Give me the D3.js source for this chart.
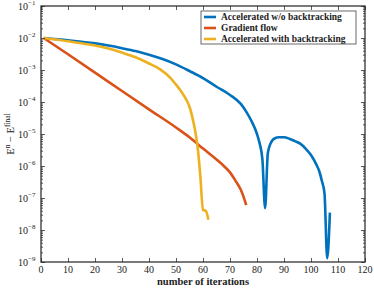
<!DOCTYPE html>
<html>
<head>
<meta charset="utf-8">
<script src="https://cdn.jsdelivr.net/npm/d3@7"></script>
<style>
  body { margin: 0; background: #fff; }
  text { font-family: "Liberation Serif", "DejaVu Serif", serif; fill: #222; }
</style>
</head>
<body>
<svg id="chart"></svg>
<script>
// iterations and energy error
const iterAcc = [1,10,20,25,30,35,40,45,50,55,60,65,70,74,76,78,80,81,82,83,84,85,86,88,90,92,94,96,98,100,102,103,104,105,106,107];
const accNoBt = [1.0e-2,8.5e-3,6.8e-3,5.8e-3,4.8e-3,3.9e-3,3.0e-3,2.2e-3,1.5e-3,9.3e-4,5.6e-4,3.0e-4,1.66e-4,8.7e-5,5.0e-5,2.5e-5,1.0e-5,5.0e-6,1.6e-6,4.8e-8,2.5e-6,5.0e-6,6.8e-6,7.9e-6,7.9e-6,7.1e-6,6.0e-6,5.0e-6,3.5e-6,2.2e-6,1.1e-6,7.1e-7,3.5e-7,1.4e-7,1.3e-9,3.5e-8];

const iterGrad = [1,10,20,30,40,50,55,60,65,68,70,72,74,75,76];
const gradFlow = [1.0e-2,3.1e-3,8.3e-4,2.2e-4,5.9e-5,1.6e-5,7.9e-6,3.5e-6,1.6e-6,9.5e-7,6.3e-7,3.5e-7,1.8e-7,1.1e-7,6.0e-8];

const iterBt = [1,10,20,25,30,35,40,44,48,50,52,54,55,56,57,58,59,60,61,62];
const accBt = [1.0e-2,7.9e-3,5.8e-3,4.7e-3,3.5e-3,2.5e-3,1.6e-3,1.07e-3,5.6e-4,3.5e-4,2.1e-4,1.1e-4,7.1e-5,3.5e-5,1.4e-5,4.0e-6,5.0e-7,4.2e-8,4.0e-8,2.1e-8];

const seriesNames = ["Accelerated w/o backtracking", "Gradient flow", "Accelerated with backtracking"];
const xTicks = [0,10,20,30,40,50,60,70,80,90,100,110,120];
const yExps = [-9,-8,-7,-6,-5,-4,-3,-2,-1];

const width = 374, height = 288;
const m = { left: 41, right: 9, top: 6, bottom: 26 };
const colors = ["#0072BD", "#D95319", "#EDB120"];

const svg = d3.select("#chart").attr("width", width).attr("height", height);

const x = d3.scaleLinear().domain([0, 120]).range([m.left, width - m.right]);
const y = d3.scaleLog().domain([1e-9, 1e-1]).range([height - m.bottom, m.top]);

const series = [
  { name: seriesNames[0], xs: iterAcc, ys: accNoBt },
  { name: seriesNames[1], xs: iterGrad, ys: gradFlow },
  { name: seriesNames[2], xs: iterBt, ys: accBt }
];

const line = d3.line().x(d => x(d[0])).y(d => y(d[1])).curve(d3.curveMonotoneX);

svg.append("g").selectAll("path")
  .data(series)
  .enter().append("path")
    .attr("d", s => line(s.xs.map((v, i) => [v, s.ys[i]])))
    .attr("fill", "none")
    .attr("stroke", (s, i) => colors[i])
    .attr("stroke-width", 2.6)
    .attr("stroke-linejoin", "round");

// ticks inward on all four sides
const minorY = [];
for (let e = -9; e < -1 + 0; e++) for (let k = 2; k <= 9; k++) minorY.push(k * Math.pow(10, e));

svg.append("g").attr("transform", `translate(0,${height - m.bottom})`)
  .call(d3.axisBottom(x).tickValues(xTicks).tickSize(-4).tickFormat(""))
  .call(g => g.select(".domain").remove());
svg.append("g").attr("transform", `translate(0,${m.top})`)
  .call(d3.axisTop(x).tickValues(xTicks).tickSize(-4).tickFormat(""))
  .call(g => g.select(".domain").remove());
svg.append("g").attr("transform", `translate(${m.left},0)`)
  .call(d3.axisLeft(y).tickValues(yExps.map(e => Math.pow(10, e))).tickSize(-4).tickFormat(""))
  .call(g => g.select(".domain").remove());
svg.append("g").attr("transform", `translate(${m.left},0)`)
  .call(d3.axisLeft(y).tickValues(minorY).tickSize(-2).tickFormat(""))
  .call(g => g.select(".domain").remove());
svg.append("g").attr("transform", `translate(${width - m.right},0)`)
  .call(d3.axisRight(y).tickValues(yExps.map(e => Math.pow(10, e))).tickSize(-4).tickFormat(""))
  .call(g => g.select(".domain").remove());
svg.append("g").attr("transform", `translate(${width - m.right},0)`)
  .call(d3.axisRight(y).tickValues(minorY).tickSize(-2).tickFormat(""))
  .call(g => g.select(".domain").remove());
svg.selectAll(".tick line").attr("stroke", "#333").attr("stroke-width", 0.8);

svg.append("rect")
  .attr("x", m.left).attr("y", m.top)
  .attr("width", width - m.left - m.right).attr("height", height - m.top - m.bottom)
  .attr("fill", "none").attr("stroke", "#222").attr("stroke-width", 1.2);

// tick labels
svg.append("g").selectAll("text")
  .data(xTicks)
  .enter().append("text")
    .attr("x", d => x(d)).attr("y", height - m.bottom + 11)
    .attr("text-anchor", "middle").attr("font-size", 10)
    .text(d => d);

const yl = svg.append("g").selectAll("text")
  .data(yExps)
  .enter().append("text")
    .attr("x", 30).attr("y", d => y(Math.pow(10, d)) + 3.5)
    .attr("text-anchor", "end").attr("font-size", 10);
yl.append("tspan").text("10");
yl.append("tspan").attr("dy", -4.5).attr("font-size", 7).text(d => "\u2212" + Math.abs(d));
yl.attr("text-anchor", "start").attr("x", 18);

// axis titles
svg.append("text")
  .attr("x", (m.left + width - m.right) / 2).attr("y", height - 3)
  .attr("text-anchor", "middle").attr("font-size", 10.5).attr("font-weight", "bold")
  .text("number of iterations");

const ylab = svg.append("text")
  .attr("transform", `translate(14,${(m.top + height - m.bottom) / 2}) rotate(-90)`)
  .attr("text-anchor", "middle").attr("font-size", 10.5);
ylab.append("tspan").text("E");
ylab.append("tspan").attr("dy", -4).attr("font-size", 7.5).text("n");
ylab.append("tspan").attr("dy", 4).text(" \u2212 E");
ylab.append("tspan").attr("dy", -4).attr("font-size", 7.5).text("final");

// legend
const lg = svg.append("g").attr("transform", "translate(201,11)");
lg.append("rect").attr("width", 155).attr("height", 33)
  .attr("fill", "#fff").attr("stroke", "#444").attr("stroke-width", 0.8);
seriesNames.forEach((name, i) => {
  const yy = 6 + i * 11;
  lg.append("line").attr("x1", 3).attr("x2", 15).attr("y1", yy).attr("y2", yy)
    .attr("stroke", colors[i]).attr("stroke-width", 2.6);
  lg.append("text").attr("x", 20).attr("y", yy + 3).attr("font-size", 9.5)
    .attr("font-weight", "bold").text(name);
});
</script>
</body>
</html>
